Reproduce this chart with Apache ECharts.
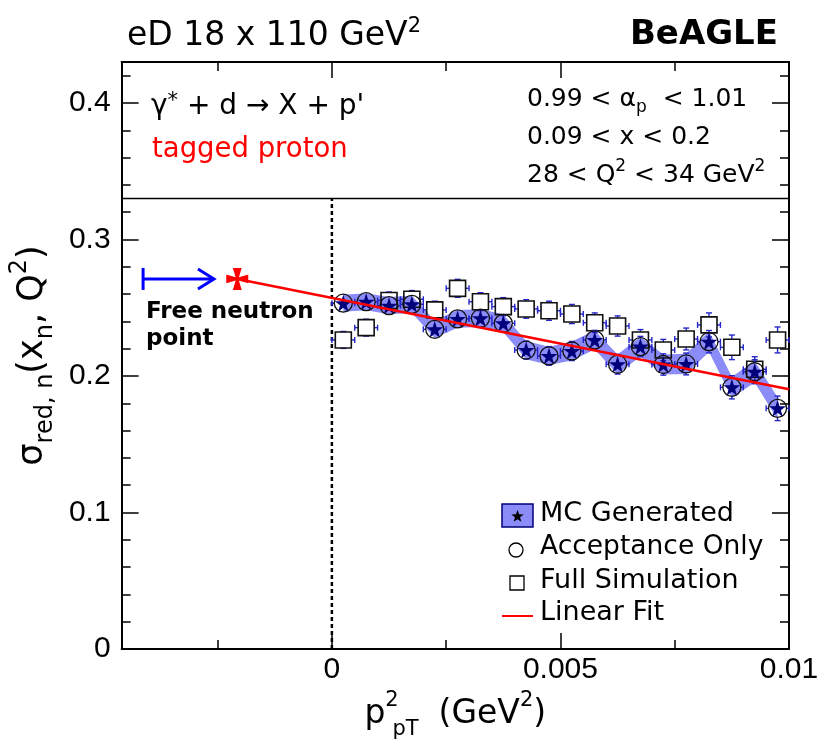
<!DOCTYPE html>
<html><head><meta charset="utf-8">
<script src="https://cdn.jsdelivr.net/npm/echarts@6/dist/echarts.min.js"></script>
<style>html,body{margin:0;padding:0;background:#fff}#c{width:823px;height:748px}</style>
</head><body><div id="c"></div>
<script>
// ---- data ----
const binCenters = [0.00025, 0.00075, 0.00125, 0.00175, 0.00225, 0.00275, 0.00325, 0.00375, 0.00425, 0.00475,
                    0.00525, 0.00575, 0.00625, 0.00675, 0.00725, 0.00775, 0.00825, 0.00875, 0.00925, 0.00975];
const binHalfWidth = 0.00025;
const mcGenerated    = [0.2533, 0.2544, 0.2515, 0.2525, 0.2342, 0.2418, 0.2423, 0.2386, 0.2190, 0.2147,
                        0.2183, 0.2264, 0.2086, 0.2215, 0.2084, 0.2088, 0.2251, 0.1917, 0.2031, 0.1763];
const mcBandHalf     = [0.0062, 0.0062, 0.0063, 0.0063, 0.0064, 0.0065, 0.0065, 0.0066, 0.0067, 0.0067,
                        0.0069, 0.0070, 0.0071, 0.0072, 0.0073, 0.0074, 0.0076, 0.0077, 0.0079, 0.0081];
const acceptanceOnly = [0.2533, 0.2544, 0.2515, 0.2525, 0.2342, 0.2418, 0.2423, 0.2386, 0.2190, 0.2147,
                        0.2183, 0.2264, 0.2086, 0.2215, 0.2084, 0.2088, 0.2251, 0.1917, 0.2031, 0.1763];
const acceptanceErr  = [0.0058, 0.0058, 0.0060, 0.0060, 0.0062, 0.0062, 0.0064, 0.0064, 0.0066, 0.0068,
                        0.0070, 0.0070, 0.0072, 0.0075, 0.0078, 0.0080, 0.0082, 0.0085, 0.0088, 0.0090];
const fullSimulation = [0.2264, 0.2354, 0.2553, 0.2562, 0.2484, 0.2642, 0.2544, 0.2508, 0.2491, 0.2478,
                        0.2454, 0.2390, 0.2366, 0.2264, 0.2190, 0.2271, 0.2374, 0.2210, 0.2049, 0.2264];
const fullSimErr     = [0.0062, 0.0062, 0.0062, 0.0064, 0.0064, 0.0066, 0.0066, 0.0066, 0.0068, 0.0070,
                        0.0070, 0.0072, 0.0074, 0.0076, 0.0078, 0.0080, 0.0088, 0.0090, 0.0092, 0.0095];
const freeNeutronPoint = [[-0.00207, 0.2711]];
const linearFit = [[-0.00207, 0.2711], [0.01, 0.1903]];
const arrowLine = [[-0.00413, 0.2711], [-0.00258, 0.2711]];
const zeroLine = [[0, 0], [0, 0.33]];
const X_MIN = -0.0046, X_MAX = 0.01, Y_MIN = 0, Y_MAX = 0.43;
const dividerLine = [[X_MIN, 0.33], [X_MAX, 0.33]];
const xMajorTicks = [0, 0.005, 0.01];
const xMinorTicks = [-0.0025, 0.0025, 0.0075];
const yMajorTicks = [0, 0.1, 0.2, 0.3, 0.4];
const yMinorTicks = [0.02, 0.04, 0.06, 0.08, 0.12, 0.14, 0.16, 0.18, 0.22, 0.24, 0.26, 0.28, 0.32, 0.34, 0.36, 0.38, 0.42];

// ---- styles ----
const FONT = 'DejaVu Sans';
const ERR_COLOR = '#2626c8';
const BAND = '#8c8cf8';
const NAVY = '#00007a';
const STAR = 'path://M50,2 L61.8,38 L99.5,38 L69,60.5 L80.5,96.5 L50,74 L19.5,96.5 L31,60.5 L0.5,38 L38.2,38 Z';
const CROSS = 'path://M6,0 L14,0 L11.5,8.5 L20,6 L20,14 L11.5,11.5 L14,20 L6,20 L8.5,11.5 L0,14 L0,6 L8.5,8.5 Z';

function xAx(pos, ticks, len, showLine, labels) {
  return {type: 'value', min: X_MIN, max: X_MAX, position: pos, splitLine: {show: false},
    axisLine: {show: showLine, onZero: false, lineStyle: {color: '#000', width: 2}},
    axisTick: {show: true, inside: true, length: len, customValues: ticks, lineStyle: {color: '#000', width: 1.5}},
    axisLabel: labels ? {show: true, customValues: ticks, margin: 6, fontSize: 30, fontFamily: 'Liberation Sans', color: '#000'} : {show: false}};
}
function yAx(pos, ticks, len, showLine, labels) {
  return {type: 'value', min: Y_MIN, max: Y_MAX, position: pos, splitLine: {show: false},
    axisLine: {show: showLine, onZero: false, lineStyle: {color: '#000', width: 2}},
    axisTick: {show: true, inside: true, length: len, customValues: ticks, lineStyle: {color: '#000', width: 1.5}},
    axisLabel: labels ? {show: true, customValues: ticks, margin: 11, fontSize: 30, fontFamily: 'Liberation Sans', color: '#000'} : {show: false}};
}

function errorBars(markerHalf) {
  return function (params, api) {
    const x = api.value(0), y = api.value(1), e = api.value(2);
    const c = api.coord([x, y]);
    const l = api.coord([x - binHalfWidth, y])[0];
    const r = api.coord([x + binHalfWidth, y])[0];
    const t = api.coord([x, y + e])[1];
    const b = api.coord([x, y - e])[1];
    const cap = 3;
    const style = {stroke: ERR_COLOR, lineWidth: 1.4};
    const children = [];
    const seg = (x1, y1, x2, y2) => children.push({type: 'line', shape: {x1, y1, x2, y2}, style});
    seg(l, c[1], c[0] - markerHalf, c[1]);
    seg(c[0] + markerHalf, c[1], r, c[1]);
    seg(l, c[1] - cap, l, c[1] + cap);
    seg(r, c[1] - cap, r, c[1] + cap);
    if (c[1] - t > markerHalf) {
      seg(c[0], t, c[0], c[1] - markerHalf);
      seg(c[0] - cap, t, c[0] + cap, t);
      seg(c[0], c[1] + markerHalf, c[0], b);
      seg(c[0] - cap, b, c[0] + cap, b);
    }
    return {type: 'group', children};
  };
}

function starPoints(cx, cy, R, r) {
  const pts = [];
  for (let i = 0; i < 10; i++) {
    const a = -Math.PI / 2 + i * Math.PI / 5;
    const rr = i % 2 === 0 ? R : r;
    pts.push([cx + rr * Math.cos(a), cy + rr * Math.sin(a)]);
  }
  return pts;
}

const txt = (x, y, style) => ({type: 'text', x, y, silent: true, style: Object.assign({fill: '#000', fontFamily: FONT, align: 'left', textAlign: 'left', verticalAlign: 'middle', textVerticalAlign: 'middle'}, style)});

const chart = echarts.init(document.getElementById('c'), null, {renderer: 'canvas'});
chart.setOption({
  animation: false,
  backgroundColor: '#fff',
  grid: {left: 121, right: 34, top: 62, bottom: 99},
  xAxis: [
    Object.assign(xAx('bottom', xMajorTicks, 16, true, true), {
      name: '{m|p}{h| }{w|2}{b|pT}{g| }{m|(GeV}{s|2}{m|)}', nameLocation: 'middle', nameGap: 38,
      nameTextStyle: {rich: {
        m: {fontSize: 33, fontFamily: FONT, lineHeight: 50, verticalAlign: 'middle', color: '#000'},
        h: {fontSize: 21, fontFamily: FONT, lineHeight: 20, width: 6, color: '#000'},
        w: {fontSize: 21, fontFamily: FONT, lineHeight: 20, verticalAlign: 'top', width: 1, color: '#000'},
        b: {fontSize: 21, fontFamily: FONT, lineHeight: 6, verticalAlign: 'bottom', color: '#000'},
        g: {fontSize: 21, fontFamily: FONT, lineHeight: 20, width: 20, color: '#000'},
        s: {fontSize: 21, fontFamily: FONT, lineHeight: 20, verticalAlign: 'top', color: '#000'}}}
    }),
    xAx('bottom', xMinorTicks, 9, false, false),
    xAx('top', xMajorTicks, 16, true, false),
    xAx('top', xMinorTicks, 9, false, false)
  ],
  yAxis: [
    Object.assign(yAx('left', yMajorTicks, 17, true, true), {
      name: '{m|σ}{b|red, n}{m|(x}{b|n}{m|, Q}{s|2}{m|)}', nameLocation: 'middle', nameRotate: 90, nameGap: 61,
      nameTextStyle: {rich: {
        m: {fontSize: 35, fontFamily: FONT, lineHeight: 50, verticalAlign: 'middle', color: '#000'},
        b: {fontSize: 24, fontFamily: FONT, lineHeight: 24, verticalAlign: 'bottom', color: '#000'},
        s: {fontSize: 24, fontFamily: FONT, lineHeight: 24, verticalAlign: 'top', color: '#000'}}}
    }),
    yAx('left', yMinorTicks, 9, false, false),
    yAx('right', yMajorTicks, 17, true, false),
    yAx('right', yMinorTicks, 9, false, false)
  ],
  series: [
    {type: 'line', name: 'divider', data: dividerLine, symbol: 'none', silent: true, z: 1,
     lineStyle: {color: '#000', width: 1.5}},
    {type: 'line', name: 'zero', data: zeroLine, symbol: 'none', silent: true, z: 1,
     lineStyle: {color: '#000', width: 2.5, type: [4, 3]}},
    {type: 'custom', name: 'MC band', silent: true, z: 2,
     data: binCenters.map((x, i) => [x, mcGenerated[i], mcBandHalf[i]]),
     encode: {x: 0, y: 1},
     renderItem: (params, api) => {
       if (params.dataIndex !== 0) return null;
       const up = binCenters.map((x, i) => api.coord([x, mcGenerated[i] + mcBandHalf[i]]));
       const lo = binCenters.map((x, i) => api.coord([x, mcGenerated[i] - mcBandHalf[i]])).reverse();
       return {type: 'polygon', shape: {points: up.concat(lo)}, style: {fill: BAND}};
     }},
    {type: 'custom', name: 'Full Simulation errors', silent: true, z: 3,
     data: binCenters.map((x, i) => [x, fullSimulation[i], fullSimErr[i]]),
     encode: {x: 0, y: 1}, renderItem: errorBars(8)},
    {type: 'scatter', name: 'Full Simulation', z: 4, symbol: 'rect', symbolSize: 16,
     data: binCenters.map((x, i) => [x, fullSimulation[i]]),
     itemStyle: {color: 'rgba(0,0,0,0)', borderColor: '#111', borderWidth: 1.6, opacity: 1}},
    {type: 'custom', name: 'Acceptance errors', silent: true, z: 5,
     data: binCenters.map((x, i) => [x, acceptanceOnly[i], acceptanceErr[i]]),
     encode: {x: 0, y: 1}, renderItem: errorBars(9)},
    {type: 'scatter', name: 'MC Generated', z: 6, symbol: STAR, symbolSize: 17,
     data: binCenters.map((x, i) => [x, mcGenerated[i]]),
     itemStyle: {color: NAVY, opacity: 1}},
    {type: 'scatter', name: 'Acceptance Only', z: 7, symbol: 'circle', symbolSize: 18,
     data: binCenters.map((x, i) => [x, acceptanceOnly[i]]),
     itemStyle: {color: 'rgba(0,0,0,0)', borderColor: '#111', borderWidth: 1.3, opacity: 1}},
    {type: 'line', name: 'Linear Fit', z: 8, data: linearFit, symbol: 'none',
     lineStyle: {color: '#ff0000', width: 2.5}},
    {type: 'custom', name: 'arrow', silent: true, z: 8, data: [arrowLine[0]], encode: {x: 0, y: 1},
     renderItem: (params, api) => {
       const a = api.coord(arrowLine[0]), b = api.coord(arrowLine[1]);
       const st = {stroke: '#0000ff', lineWidth: 3, fill: 'none'};
       return {type: 'group', children: [
         {type: 'line', shape: {x1: a[0], y1: a[1], x2: b[0], y2: b[1]}, style: st},
         {type: 'line', shape: {x1: a[0], y1: a[1] - 11, x2: a[0], y2: a[1] + 11}, style: st},
         {type: 'polyline', shape: {points: [[b[0] - 16, b[1] - 10], [b[0], b[1]], [b[0] - 16, b[1] + 10]]}, style: st}
       ]};
     }},
    {type: 'scatter', name: 'Free neutron point', z: 9, symbol: CROSS, symbolSize: 22,
     data: freeNeutronPoint, itemStyle: {color: '#ff0000', opacity: 1}}
  ],
  graphic: [
    txt(127, 36, {text: '{m|eD 18 x 110 GeV}{s|2}', rich: {
      m: {fontSize: 33, fontFamily: FONT, lineHeight: 40, verticalAlign: 'middle'},
      s: {fontSize: 21, fontFamily: FONT, lineHeight: 34, verticalAlign: 'top'}}}),
    txt(778, 35, {text: 'BeAGLE', fontSize: 34, fontWeight: 'bold', align: 'right', textAlign: 'right'}),
    txt(151, 107, {text: '{m|γ}{s|*}{m| + d → X + p\'}', rich: {
      m: {fontSize: 28, fontFamily: FONT, lineHeight: 32, verticalAlign: 'middle'},
      s: {fontSize: 21, fontFamily: FONT, lineHeight: 22, verticalAlign: 'top'}}}),
    txt(152, 150, {text: 'tagged proton', fontSize: 27.5, fill: '#ff0000'}),
    txt(527, 99.5, {text: '{m|0.99 < α}{b|p}{m|  < 1.01}', rich: {
      m: {fontSize: 25, fontFamily: FONT, lineHeight: 34, verticalAlign: 'middle'},
      b: {fontSize: 17, fontFamily: FONT, lineHeight: 17, verticalAlign: 'bottom'}}}),
    txt(527, 137.5, {text: '0.09 < x < 0.2', fontSize: 25}),
    txt(527, 175.5, {text: '{m|28 < Q}{s|2}{m| < 34 GeV}{s|2}', rich: {
      m: {fontSize: 25, fontFamily: FONT, lineHeight: 34, verticalAlign: 'middle'},
      s: {fontSize: 17, fontFamily: FONT, lineHeight: 24, verticalAlign: 'top'}}}),
    txt(146, 325.5, {text: 'Free neutron\npoint', fontSize: 23, fontWeight: 'bold', lineHeight: 27}),
    // legend
    {type: 'rect', silent: true, shape: {x: 502, y: 504, width: 31, height: 23}, style: {fill: BAND, stroke: NAVY, lineWidth: 1.5}},
    {type: 'polygon', silent: true, shape: {points: starPoints(517.5, 516.5, 6.5, 2.7)}, style: {fill: '#000'}},
    {type: 'circle', silent: true, shape: {cx: 516, cy: 550, r: 7}, style: {fill: 'none', stroke: '#000', lineWidth: 1.3}},
    {type: 'rect', silent: true, shape: {x: 510, y: 576, width: 14, height: 14}, style: {fill: 'none', stroke: '#000', lineWidth: 1.3}},
    {type: 'line', silent: true, shape: {x1: 502, y1: 616, x2: 533, y2: 616}, style: {stroke: '#ff0000', lineWidth: 2}},
    txt(540, 514, {text: 'MC Generated', fontSize: 27}),
    txt(540, 547, {text: 'Acceptance Only', fontSize: 26.5}),
    txt(540, 581, {text: 'Full Simulation', fontSize: 27}),
    txt(540, 613, {text: 'Linear Fit', fontSize: 27})
  ]
});
</script></body></html>
